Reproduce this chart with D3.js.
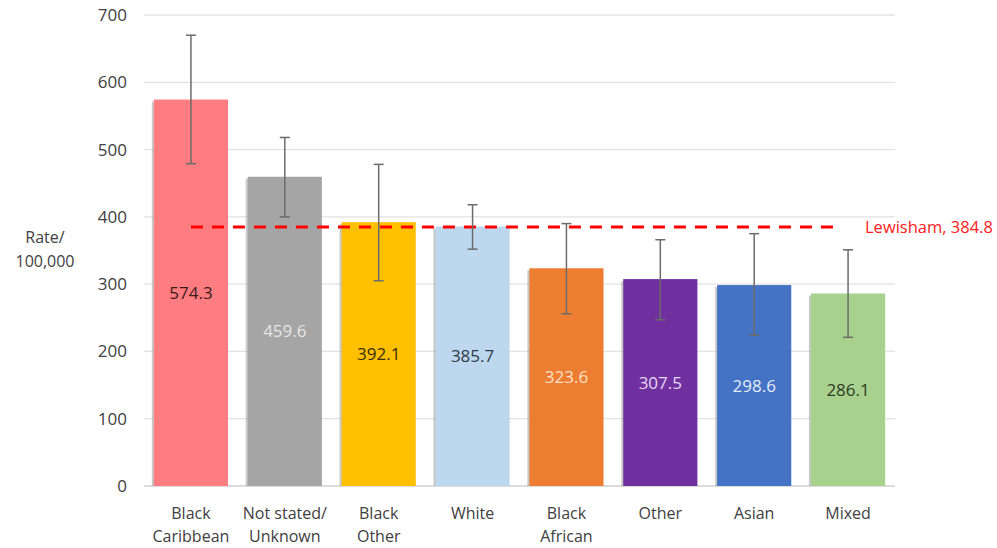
<!DOCTYPE html>
<html><head><meta charset="utf-8">
<script src="https://cdn.jsdelivr.net/npm/d3@7"></script>
<style>html,body{margin:0;padding:0;background:#fff;}svg{display:block;font-family:"Open Sans",sans-serif;}</style>
</head><body>
<svg id="c" width="997" height="548"></svg>
<script>
const categories = [["Black","Caribbean"],["Not stated/","Unknown"],["Black","Other"],["White"],["Black","African"],["Other"],["Asian"],["Mixed"]];
const rates = [574.3,459.6,392.1,385.7,323.6,307.5,298.6,286.1];
const upper = [670,518,478,418,390,366,375,351];
const lower = [479,400,305,352,256,247,224,221];
const barColors = ["#FF7C80","#A5A5A5","#FFC000","#BDD7EE","#ED7D31","#7030A0","#4472C4","#A9D18E"];
const labelColors = ["#3b1a1c","#e6e6e6","#3a2e00","#2f3a48","#fbe0cc","#e6d8f2","#e4ecf8","#2f3a28"];
const yTicks = [0,100,200,300,400,500,600,700];
const lewisham = 384.8;

const svg = d3.select("#c");
const x = d3.scaleBand().domain(d3.range(categories.length)).range([144,895]).paddingInner(0.21).paddingOuter(0.105);
const y = d3.scaleLinear().domain([0,700]).range([486,15]);

// gridlines
svg.append("g").selectAll("line").data(yTicks).join("line")
  .attr("x1",144).attr("x2",895).attr("y1",d=>y(d)).attr("y2",d=>y(d))
  .attr("stroke",d=>d===0?"#d0d0d0":"#e2e2e2").attr("stroke-width",1.3);

// y axis labels
const yAxis = d3.axisLeft(y).tickValues(yTicks).tickSize(0).tickPadding(0);
const ga = svg.append("g").attr("transform","translate(127,0)").call(yAxis);
ga.select(".domain").remove();
ga.selectAll("text").attr("font-size",17).attr("fill","#404040").attr("font-family","'Open Sans',sans-serif");

svg.append("text").attr("x",45).attr("y",243).attr("text-anchor","middle").attr("font-size",16).attr("fill","#404040").text("Rate/");
svg.append("text").attr("x",45).attr("y",267).attr("text-anchor","middle").attr("font-size",16).attr("fill","#404040").text("100,000");

// shadows
svg.append("g").selectAll("rect").data(rates).join("rect")
  .attr("x",(d,i)=>x(i)-2).attr("y",d=>y(d)+2).attr("width",x.bandwidth()).attr("height",d=>y(0)-y(d)-2)
  .attr("fill","#9a9a9a").attr("opacity",0.55);
// bars
svg.append("g").selectAll("rect").data(rates).join("rect")
  .attr("x",(d,i)=>x(i)).attr("y",d=>y(d)).attr("width",x.bandwidth()).attr("height",d=>y(0)-y(d))
  .attr("fill",(d,i)=>barColors[i]);

// lewisham line
svg.append("line").attr("x1",x(0)+x.bandwidth()/2).attr("x2",838).attr("y1",y(lewisham)).attr("y2",y(lewisham))
  .attr("stroke","#FF0000").attr("stroke-width",3).attr("stroke-dasharray","12,9");
svg.append("text").attr("x",865).attr("y",y(lewisham)+6).attr("font-size",16.5).attr("fill","#FF2020").text("Lewisham, "+lewisham);

// error bars
const eb = svg.append("g").attr("stroke","#6b6b6b").attr("stroke-width",1.5);
rates.forEach((d,i)=>{
  const cx = x(i)+x.bandwidth()/2;
  eb.append("line").attr("x1",cx).attr("x2",cx).attr("y1",y(upper[i])).attr("y2",y(lower[i]));
  eb.append("line").attr("x1",cx-5).attr("x2",cx+5).attr("y1",y(upper[i])).attr("y2",y(upper[i]));
  eb.append("line").attr("x1",cx-5).attr("x2",cx+5).attr("y1",y(lower[i])).attr("y2",y(lower[i]));
});

// value labels
svg.append("g").selectAll("text").data(rates).join("text")
  .attr("x",(d,i)=>x(i)+x.bandwidth()/2).attr("y",d=>(y(d)+y(0))/2+6)
  .attr("text-anchor","middle").attr("font-size",17).attr("fill",(d,i)=>labelColors[i]).text(d=>d.toFixed(1));

// category labels
const cg = svg.append("g");
categories.forEach((c,i)=>{
  const t = cg.append("text").attr("x",x(i)+x.bandwidth()/2).attr("y",519).attr("text-anchor","middle").attr("font-size",16).attr("fill","#404040");
  c.forEach((line,j)=>t.append("tspan").attr("x",x(i)+x.bandwidth()/2).attr("dy",j?23:0).text(line));
});
</script>
</body></html>
